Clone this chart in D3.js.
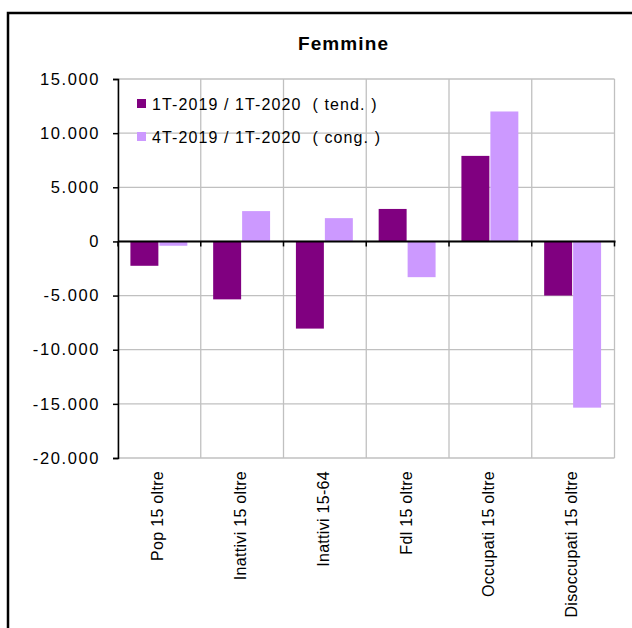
<!DOCTYPE html>
<html>
<head>
<meta charset="utf-8">
<script src="https://cdn.jsdelivr.net/npm/d3@7"></script>
<style>
  html, body { margin: 0; padding: 0; background: #fff; }
  svg { display: block; font-family: "Liberation Sans", Arial, sans-serif; }
  .leg text { white-space: pre; }
</style>
</head>
<body>
<svg id="chart" width="632" height="628"></svg>
<script>
const categories = ["Pop 15 oltre", "Inattivi 15 oltre", "Inattivi 15-64", "Fdl 15 oltre", "Occupati 15 oltre", "Disoccupati 15 oltre"];
const seriesNames = ["1T-2019 / 1T-2020  ( tend. )", "4T-2019 / 1T-2020  ( cong. )"];
const tendValues = [-2250, -5350, -8050, 3000, 7900, -5000];
const congValues = [-400, 2800, 2150, -3300, 12000, -15350];
const yTicks = [15000, 10000, 5000, 0, -5000, -10000, -15000, -20000];
const yTickLabels = ["15.000", "10.000", "5.000", "0", "-5.000", "-10.000", "-15.000", "-20.000"];
const colors = ["#800080", "#cc99ff"];

const svg = d3.select("#chart");

// outer frame
svg.append("rect").attr("x", 8).attr("y", 13).attr("width", 700).attr("height", 700)
  .attr("fill", "none").attr("stroke", "#000").attr("stroke-width", 2.5);

const plot = { left: 118, right: 614.5, top: 79, bottom: 458 };

const x0 = d3.scaleBand().domain(categories).range([plot.left, plot.right])
  .paddingInner(0.3).paddingOuter(0.15);
const step = x0.step();
const x1 = d3.scaleBand().domain([0, 1]).range([0, x0.bandwidth()]).padding(0);
const y = d3.scaleLinear().domain([-20000, 15000]).range([plot.bottom, plot.top]);

// title
svg.append("text").attr("x", 343.5).attr("y", 50).attr("text-anchor", "middle")
  .attr("font-size", 19).attr("font-weight", "bold").attr("letter-spacing", 1.1)
  .text("Femmine");

// gridlines horizontal
const g = svg.append("g");
g.selectAll("line.hg").data(yTicks).join("line")
  .attr("x1", plot.left).attr("x2", plot.right)
  .attr("y1", d => y(d)).attr("y2", d => y(d))
  .attr("stroke", "#c0c0c0").attr("stroke-width", 1.3);

// vertical gridlines at category boundaries
const bounds = categories.map(c => x0(c) - x0.paddingOuter() * step).concat([plot.right]);
g.selectAll("line.vg").data(bounds).join("line")
  .attr("x1", d => d).attr("x2", d => d)
  .attr("y1", plot.top).attr("y2", plot.bottom)
  .attr("stroke", "#c0c0c0").attr("stroke-width", 1.3);

// bars
const rows = categories.map((c, i) => ({ c, v: [tendValues[i], congValues[i]] }));
const groups = svg.append("g").selectAll("g").data(rows).join("g")
  .attr("transform", d => `translate(${x0(d.c)},0)`);
groups.selectAll("rect").data(d => d.v.map((v, k) => ({ v, k }))).join("rect")
  .attr("x", d => x1(d.k))
  .attr("width", x1.bandwidth() - 1)
  .attr("y", d => y(Math.max(0, d.v)))
  .attr("height", d => Math.abs(y(d.v) - y(0)))
  .attr("fill", d => colors[d.k]);

// y axis
const yAxis = d3.axisLeft(y).tickValues(yTicks).tickSize(5).tickPadding(13)
  .tickFormat((d, i) => yTickLabels[i]);
const ya = svg.append("g").attr("transform", `translate(${plot.left},0)`).call(yAxis);
ya.select(".domain").attr("stroke", "#000").attr("stroke-width", 1.5);
ya.selectAll(".tick line").attr("stroke", "#000").attr("stroke-width", 1.5);
ya.selectAll(".tick text").attr("font-size", 16.5).attr("fill", "#000")
  .attr("letter-spacing", 1.6)
  .attr("font-family", "Liberation Sans, Arial, sans-serif");

// zero (category) axis
svg.append("line").attr("x1", plot.left).attr("x2", plot.right + 1)
  .attr("y1", y(0)).attr("y2", y(0)).attr("stroke", "#000").attr("stroke-width", 2);
svg.selectAll("line.ct").data(bounds).join("line")
  .attr("x1", d => d).attr("x2", d => d)
  .attr("y1", y(0)).attr("y2", y(0) + 5)
  .attr("stroke", "#000").attr("stroke-width", 1.5);

// x labels
svg.append("g").selectAll("text").data(categories).join("text")
  .attr("transform", c => `translate(${x0(c) + x0.bandwidth() / 2 + 4},471) rotate(-90)`)
  .attr("text-anchor", "end")
  .attr("font-size", 16).attr("letter-spacing", 0.3)
  .text(c => c);

// legend
const leg = svg.append("g").attr("class", "leg").selectAll("g").data(seriesNames).join("g")
  .attr("transform", (d, i) => `translate(137,${99 + i * 33})`);
leg.append("rect").attr("width", 9).attr("height", 9).attr("fill", (d, i) => colors[i]);
leg.append("text").attr("x", 15).attr("y", 10.5).attr("font-size", 16)
  .attr("letter-spacing", 1.1).attr("xml:space", "preserve").text(d => d);
</script>
</body>
</html>
